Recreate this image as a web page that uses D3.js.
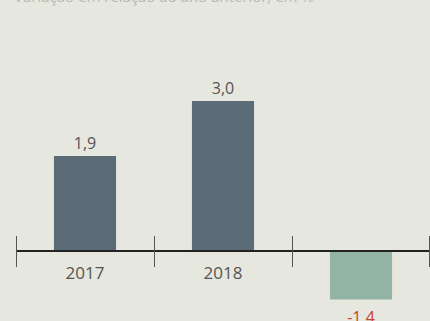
<!DOCTYPE html>
<html lang="pt">
<head>
<meta charset="UTF-8">
<title>Chart</title>
<script src="https://d3js.org/d3.v7.min.js"></script>
<style>
  body { margin: 0; background: #e6e7de; }
  svg { display: block; font-family: "Open Sans", sans-serif; }
</style>
</head>
<body>
<svg id="chart"></svg>
<script>
  // data
  const years = ["2017", "2018", "2019"];
  const values = [1.9, 3.0, -0.97];          // bar lengths
  const valueLabels = ["1,9", "3,0", "-1,4"];
  const subtitle = "Variação em relação ao ano anterior, em %";

  const width = 430, height = 321;
  const svg = d3.select("#chart").attr("width", width).attr("height", height);

  svg.append("rect").attr("width", width).attr("height", height).attr("fill", "#e6e7de");

  // cropped subtitle at the very top
  svg.append("text")
    .attr("x", 14).attr("y", 2)
    .attr("font-size", 15)
    .attr("fill", "#b8b9b2")
    .text(subtitle);

  const x = d3.scaleBand()
    .domain(years)
    .range([16, 430])
    .paddingInner(0.55)
    .paddingOuter(0.275);

  const y = d3.scaleLinear()
    .domain([0, 3])
    .range([251, 101]);

  // bars
  svg.append("g")
    .selectAll("rect")
    .data(years)
    .join("rect")
      .attr("x", d => x(d))
      .attr("width", x.bandwidth())
      .attr("y", (d, i) => Math.min(y(values[i]), y(0)))
      .attr("height", (d, i) => Math.abs(y(values[i]) - y(0)))
      .attr("fill", (d, i) => values[i] < 0 ? "#93b4a5" : "#5b6b78");

  // value labels
  svg.append("g")
    .selectAll("text")
    .data(years)
    .join("text")
      .attr("x", d => x(d) + x.bandwidth() / 2)
      .attr("y", (d, i) => values[i] < 0 ? y(values[i]) + 23 : y(values[i]) - 7)
      .attr("text-anchor", "middle")
      .attr("font-size", 16)
      .attr("fill", (d, i) => values[i] < 0 ? "#c8432b" : "#555")
      .text((d, i) => valueLabels[i]);

  // zero axis line
  svg.append("line")
    .attr("x1", 16).attr("x2", width)
    .attr("y1", y(0)).attr("y2", y(0))
    .attr("stroke", "#222")
    .attr("stroke-width", 2);

  // separator ticks at band edges
  const edges = years.map(d => x(d) - x.step() * x.paddingOuter());
  edges.push(x.range()[1]);
  svg.append("g")
    .selectAll("line")
    .data(edges)
    .join("line")
      .attr("x1", d => Math.min(d, width - 1) + 0.5)
      .attr("x2", d => Math.min(d, width - 1) + 0.5)
      .attr("y1", 236).attr("y2", 267)
      .attr("stroke", "#555")
      .attr("stroke-width", 1);

  // year labels (only under positive bars)
  svg.append("g")
    .selectAll("text")
    .data(years.filter((d, i) => values[i] >= 0))
    .join("text")
      .attr("x", d => x(d) + x.bandwidth() / 2)
      .attr("y", 279)
      .attr("text-anchor", "middle")
      .attr("font-size", 17)
      .attr("fill", "#555")
      .text(d => d);
</script>
</body>
</html>
